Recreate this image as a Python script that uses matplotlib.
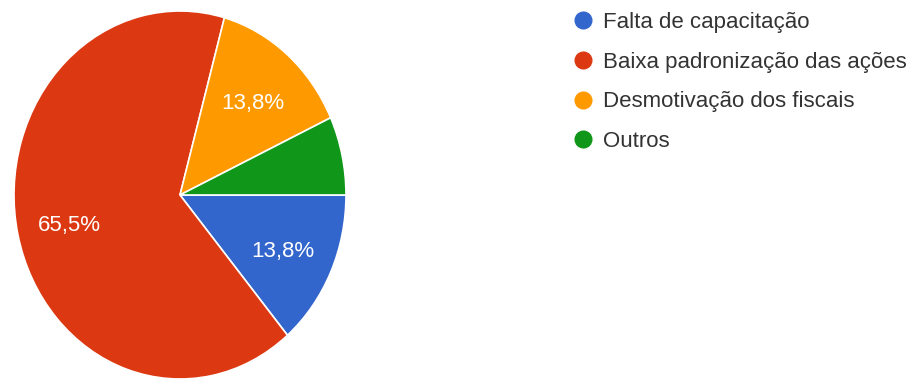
import matplotlib.pyplot as plt
from matplotlib.lines import Line2D
from matplotlib.transforms import offset_copy

# Dados do gráfico
categorias = ['Falta de capacitação', 'Baixa padronização das ações',
              'Desmotivação dos fiscais', 'Outros']
valores = [4, 19, 4, 2]
cores = ['#3366CC', '#DC3912', '#FF9900', '#109618']

plt.rcParams['font.family'] = ['Liberation Sans', 'DejaVu Sans']

fig = plt.figure(figsize=(9.13, 3.81), dpi=100)
ax = fig.add_axes([14 / 913, 2 / 381, 332 / 913, 368 / 381])


def rotulo(p):
    # O Google Forms não mostra rótulo para fatias pequenas
    return ('%.1f%%' % p).replace('.', ',') if p > 10 else ''


fatias, textos, pct = ax.pie(valores, colors=cores, startangle=0, counterclock=False,
                             autopct=rotulo, pctdistance=0.68,
                             wedgeprops={'edgecolor': 'white', 'linewidth': 1.2},
                             textprops={'color': 'white', 'fontsize': 16})
ax.set_aspect('auto')
ax.set_xlim(-1, 1)
ax.set_ylim(-1, 1)

# pequeno deslocamento dos rótulos para baixo
for t in pct:
    t.set_transform(offset_copy(ax.transData, fig=fig, x=0, y=-4, units='dots'))

# Legenda com marcadores circulares
marcadores = [Line2D([], [], marker='o', linestyle='', color=c, markersize=12)
              for c in cores]
fig.legend(marcadores, categorias, loc='upper left',
           bbox_to_anchor=(572 / 913, 1 - 12 / 381),
           frameon=False, fontsize=16, labelspacing=0.84, handletextpad=0.4,
           handlelength=1.0, borderpad=0, borderaxespad=0, labelcolor='#333333')

fig.savefig('out.png', dpi=100)
